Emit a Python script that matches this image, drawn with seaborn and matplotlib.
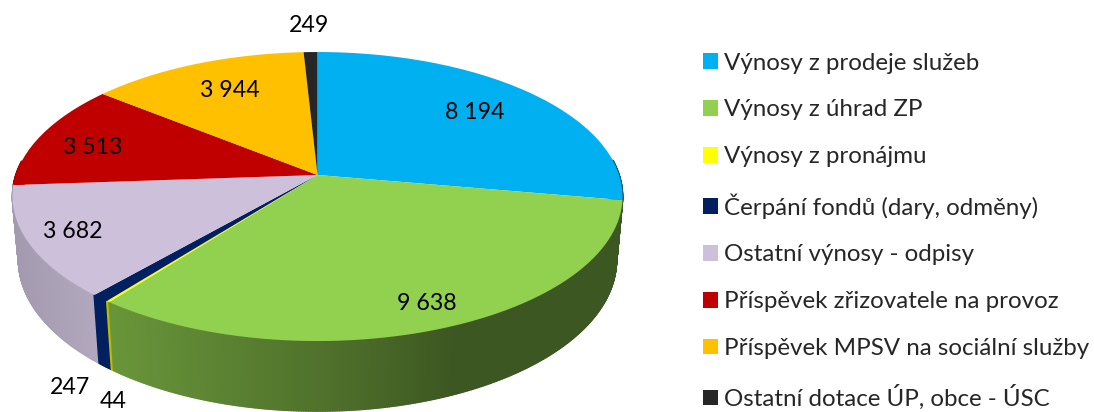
import matplotlib
matplotlib.use('AGG')
import matplotlib.pyplot as plt
import seaborn as sns
import numpy as np
from matplotlib.collections import PolyCollection
from matplotlib.path import Path
from matplotlib.transforms import Affine2D, Transform

categories = ['Výnosy z prodeje služeb', 'Výnosy z úhrad ZP', 'Výnosy z pronájmu',
              'Čerpání fondů (dary, odměny)', 'Ostatní výnosy - odpisy',
              'Příspěvek zřizovatele na provoz', 'Příspěvek MPSV na sociální služby',
              'Ostatní dotace ÚP, obce - ÚSC']
values = [8194, 9638, 44, 247, 3682, 3513, 3944, 249]
colors = ['#00b0f0', '#92d050', '#ffff00', '#002060', '#ccc0da', '#c00000', '#ffc000', '#262626']

# where each value label sits, in image pixels
label_pos = [(475, 112), (427, 304), (113, 401), (70, 388), (73, 231), (93, 147), (230, 90), (309, 25)]

sns.set_theme(style='white')
plt.rcParams['font.family'] = ['Lato', 'DejaVu Sans']

CX, CY = 317.5, 175.0
A, B, K = 301.6, 141.3, 0.149
DROP, SHRINK = 64.3, 0.02


def view(xy, low=0.0):
    # perspective view of the flat pie, low=1 is the underside
    u, v = xy[:, 0], xy[:, 1]
    w = 1 + K * v + SHRINK * low
    return np.column_stack([CX + A * u / w, CY + (DROP * low - B * v) / w])


class PieView(Transform):
    input_dims = 2
    output_dims = 2

    def transform_non_affine(self, xy):
        return view(np.asarray(xy))

    def transform_path_non_affine(self, path):
        poly = path.transformed(Affine2D().scale(400)).to_polygons(closed_only=False)[0] / 400
        return Path(view(poly), closed=True)


fig = plt.figure(figsize=(10.94, 4.12), dpi=100)
ax = fig.add_axes([0, 0, 1, 1])
wedges, _ = ax.pie(values, colors=colors, startangle=90, counterclock=False,
                   wedgeprops={'linewidth': 0})
ax.set_aspect('auto')
ax.set_xlim(0, 1094)
ax.set_ylim(412, 0)
ax.axis('off')

# side wall: thin strips under the rim of every slice, darker to the right
polys, shades, depth = [], [], []
for w, c in zip(wedges, colors):
    th = np.radians(np.arange(w.theta1, w.theta2 + 0.4, 0.4))
    th[-1] = min(th[-1], np.radians(w.theta2))
    rim = np.column_stack([np.cos(th), np.sin(th)])
    top, low = view(rim), view(rim, 1)
    rgb = np.array(matplotlib.colors.to_rgb(c))
    for i in range(len(th) - 1):
        if rim[i, 1] > 0.1:
            continue
        polys.append([top[i], top[i + 1], low[i + 1], low[i]])
        f = np.interp(top[i, 0], [12, 100, 108, 340, 450, 620], [.80, .88, .72, .53, .42, .42])
        if c == '#002060':
            f = 1.0
        shades.append(rgb * f)
        depth.append(rim[i, 1])
order = np.argsort(depth)[::-1]
side = PolyCollection([polys[i] for i in order], facecolors=[shades[i] for i in order],
                      edgecolors=[shades[i] for i in order], linewidths=1.2, zorder=1)
ax.add_collection(side)

for w in wedges:
    w.set_transform(PieView() + ax.transData)
    w.set_zorder(2)

for v, (x, y) in zip(values, label_pos):
    ax.text(x, y, f'{v:,}'.replace(',', ' '), ha='center', va='center',
            fontsize=16.7, color='black', zorder=3)

ax.legend(wedges, categories, loc='upper left', bbox_to_anchor=(703 / 1094, 1 - 52.5 / 412),
          frameon=False, fontsize=17.4, labelspacing=1.07, handlelength=0.62, handleheight=0.62,
          handletextpad=0.25, borderpad=0, borderaxespad=0)

plt.savefig('out.png', dpi=100)
